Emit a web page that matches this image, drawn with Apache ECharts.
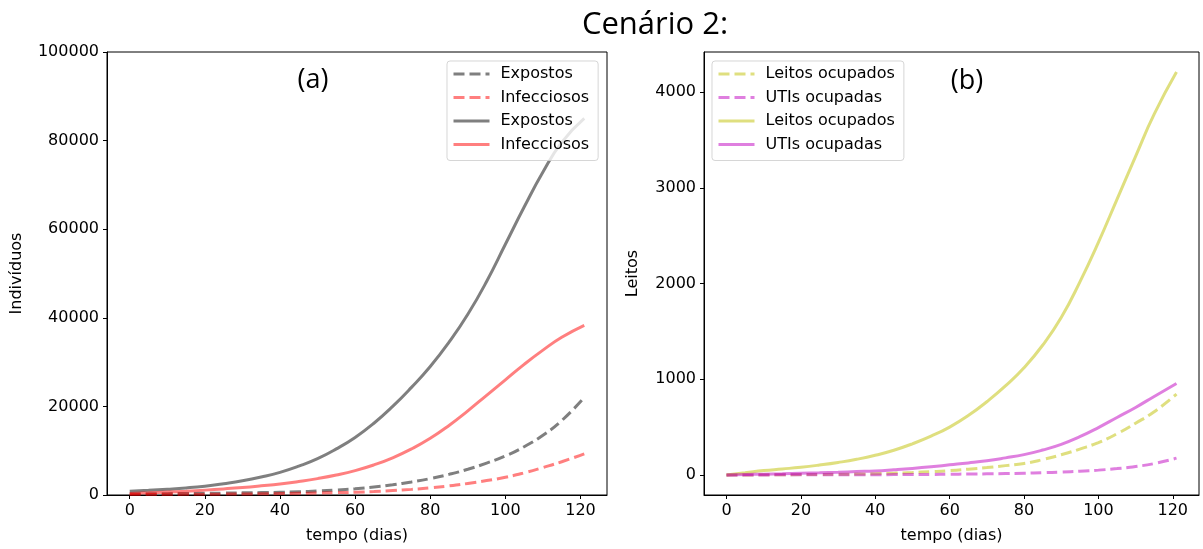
<!DOCTYPE html>
<html>
<head>
<meta charset="utf-8">
<script src="https://cdn.jsdelivr.net/npm/echarts@6/dist/echarts.min.js"></script>
<style>
html,body{margin:0;padding:0;background:#fff;}
#chart{width:1203px;height:549px;}
</style>
</head>
<body>
<div id="chart"></div>
<script>
// ---- data ----
const titleText = 'Cenário 2:';
const panelLabels = ['(a)', '(b)'];
const xTicks = [0, 20, 40, 60, 80, 100, 120];
const yTicksB = [0, 1000, 2000, 3000, 4000];

const days = [0, 5, 10, 15, 20, 25, 30, 35, 40, 45, 50, 55, 60, 65, 70, 75, 80, 85, 90, 95, 100, 105, 110, 115, 121];

// panel (a)
const expostosDash = [250, 270, 300, 340, 380, 430, 480, 540, 620, 740, 900, 1120, 1400, 1800, 2300, 2950, 3700, 4650, 5800, 7200, 8800, 10900, 13500, 16800, 22000];
const infecciososDash = [100, 115, 130, 150, 170, 200, 230, 270, 320, 380, 450, 530, 620, 780, 1000, 1270, 1600, 2050, 2600, 3250, 4000, 5000, 6200, 7500, 9300];
const expostosSolid = [850, 1050, 1300, 1600, 2000, 2550, 3200, 4050, 5100, 6500, 8200, 10400, 13000, 16200, 20000, 24300, 29000, 34500, 40800, 48200, 56600, 65000, 72900, 79600, 85000];
const infecciososSolid = [350, 480, 650, 850, 1100, 1380, 1700, 2080, 2500, 3050, 3700, 4500, 5500, 6800, 8400, 10400, 12800, 15700, 19000, 22500, 26000, 29500, 32700, 35600, 38300];

// panel (b)
const leitosDash = [0, 0, 1, 2, 3, 5, 7, 9, 12, 18, 25, 34, 45, 60, 77, 97, 120, 160, 210, 270, 338, 430, 540, 660, 845];
const utisDash = [0, 0, 0, 1, 1, 1, 1, 2, 2, 3, 4, 5, 7, 9, 11, 14, 18, 23, 30, 39, 50, 66, 88, 118, 175];
const leitosSolid = [0, 22, 45, 62, 80, 103, 130, 163, 205, 258, 325, 405, 500, 620, 765, 930, 1120, 1355, 1645, 2015, 2430, 2880, 3330, 3770, 4210];
const utisSolid = [0, 4, 8, 12, 17, 22, 28, 35, 42, 54, 68, 85, 105, 125, 148, 178, 212, 260, 320, 400, 495, 600, 705, 820, 955];

const namesA = ['Expostos', 'Infecciosos', 'Expostos ', 'Infecciosos '];
const namesB = ['Leitos ocupados', 'UTIs ocupadas', 'Leitos ocupados ', 'UTIs ocupadas '];

// ---- styles ----
const C_GRAY = 'rgba(0,0,0,0.5)';
const C_RED = 'rgba(255,0,0,0.5)';
const C_YEL = 'rgba(191,191,0,0.5)';
const C_MAG = 'rgba(191,0,191,0.5)';
const FONT = 'DejaVu Sans';
const pair = (xs, ys) => xs.map((x, i) => [x, ys[i]]);

function mkLine(name, ys, color, dashed, xi) {
  return {
    name: name, type: 'line', xAxisIndex: xi, yAxisIndex: xi,
    data: pair(days, ys), symbol: 'none', showSymbol: false,
    smooth: 0.5,
    color: color,
    itemStyle: { color: color },
    lineStyle: { color: color, width: 3, type: dashed ? [11, 5] : 'solid' },
    emphasis: { disabled: true }, animation: false
  };
}

function mkX(gi) {
  return {
    gridIndex: gi, type: 'value', min: -6.05, max: 127.05,
    name: 'tempo (dias)', nameLocation: 'middle', nameGap: 33,
    nameTextStyle: { fontFamily: FONT, fontSize: 16, color: '#000' },
    axisLine: { show: true, onZero: false, lineStyle: { color: '#000', width: 1 } },
    axisTick: { show: true, length: 4, customValues: xTicks, lineStyle: { color: '#000' } },
    axisLabel: { customValues: xTicks, fontFamily: FONT, fontSize: 16, color: '#000', margin: 8, formatter: v => String(v) },
    splitLine: { show: false }
  };
}

const legendCommon = {
  orient: 'vertical', top: 61, padding: [5, 9, 8, 5], itemGap: 7.5,
  itemWidth: 36, itemHeight: 16,
  itemStyle: { opacity: 0, borderWidth: 0 },
  lineStyle: { width: 3 },
  borderColor: 'rgba(204,204,204,0.8)', borderWidth: 1, borderRadius: 3,
  backgroundColor: 'rgba(255,255,255,0.8)',
  textStyle: { fontFamily: FONT, fontSize: 16, color: '#000', lineHeight: 16, padding: [0, 0, 0, 6] },
  formatter: n => n.trim(),
  selectedMode: false
};

const option = {
  animation: false,
  backgroundColor: '#fff',
  graphic: [
    { type: 'text', x: 655, y: 25, style: { text: titleText, align: 'center', verticalAlign: 'middle', font: '31px "Open Sans"', fill: '#000' } },
    { type: 'text', x: 313, y: 80, style: { text: panelLabels[0], align: 'center', verticalAlign: 'middle', font: '27px "Open Sans"', fill: '#000' } },
    { type: 'text', x: 967, y: 81, style: { text: panelLabels[1], align: 'center', verticalAlign: 'middle', font: '27px "Open Sans"', fill: '#000' } }
  ],
  grid: [
    { left: 107, top: 52, width: 500, height: 445, show: true, borderColor: '#000', borderWidth: 1, backgroundColor: 'transparent' },
    { left: 704, top: 52, width: 495, height: 445, show: true, borderColor: '#000', borderWidth: 1, backgroundColor: 'transparent' }
  ],
  legend: [
    Object.assign({}, legendCommon, { left: 447, data: namesA }),
    Object.assign({}, legendCommon, { left: 712, data: namesB })
  ],
  xAxis: [mkX(0), mkX(1)],
  yAxis: [
    {
      gridIndex: 0, type: 'value', min: 0, max: 100000, interval: 20000,
      name: 'Indivíduos', nameLocation: 'middle', nameGap: 82,
      nameTextStyle: { fontFamily: FONT, fontSize: 16, color: '#000' },
      axisLine: { show: true, onZero: false, lineStyle: { color: '#000', width: 1 } },
      axisTick: { show: true, length: 4, lineStyle: { color: '#000' } },
      axisLabel: { fontFamily: FONT, fontSize: 16, color: '#000', margin: 8, formatter: v => String(v) },
      splitLine: { show: false }
    },
    {
      gridIndex: 1, type: 'value', min: -210, max: 4420,
      name: 'Leitos', nameLocation: 'middle', nameGap: 63,
      nameTextStyle: { fontFamily: FONT, fontSize: 16, color: '#000' },
      axisLine: { show: true, onZero: false, lineStyle: { color: '#000', width: 1 } },
      axisTick: { show: true, length: 4, customValues: yTicksB, lineStyle: { color: '#000' } },
      axisLabel: { customValues: yTicksB, fontFamily: FONT, fontSize: 16, color: '#000', margin: 8, formatter: v => String(v) },
      splitLine: { show: false }
    }
  ],
  series: [
    mkLine(namesA[0], expostosDash, C_GRAY, true, 0),
    mkLine(namesA[1], infecciososDash, C_RED, true, 0),
    mkLine(namesA[2], expostosSolid, C_GRAY, false, 0),
    mkLine(namesA[3], infecciososSolid, C_RED, false, 0),
    mkLine(namesB[0], leitosDash, C_YEL, true, 1),
    mkLine(namesB[1], utisDash, C_MAG, true, 1),
    mkLine(namesB[2], leitosSolid, C_YEL, false, 1),
    mkLine(namesB[3], utisSolid, C_MAG, false, 1)
  ]
};

const chart = echarts.init(document.getElementById('chart'), null, { renderer: 'canvas' });
chart.setOption(option);
</script>
</body>
</html>
